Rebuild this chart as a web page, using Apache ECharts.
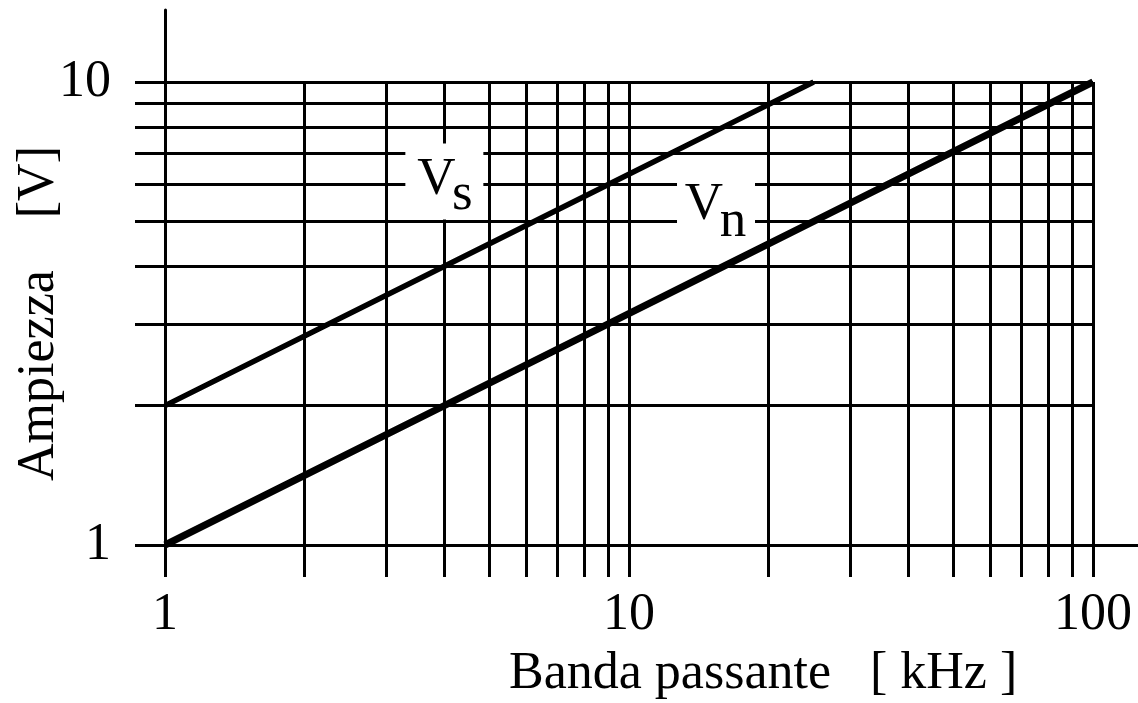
<!DOCTYPE html>
<html>
<head>
<meta charset="utf-8">
<script src="https://cdn.jsdelivr.net/npm/echarts@6/dist/echarts.min.js"></script>
<style>
  html, body { margin: 0; padding: 0; background: #fff; }
  #chart { width: 1138px; height: 703px; }
</style>
</head>
<body>
<div id="chart"></div>
<script>
// Bandwidth (kHz) vs amplitude (V), both on logarithmic scales
const xTicks = [1, 2, 3, 4, 5, 6, 7, 8, 9, 10, 20, 30, 40, 50, 60, 70, 80, 90, 100];
const xLabels = [1, 10, 100];
const yTicks = [1, 2, 3, 4, 5, 6, 7, 8, 9, 10];
const yLabels = [1, 10];

// Signal amplitude Vs
const vsFreq = [1, 4, 9, 16, 25];
const vsAmp = [2, 4, 6, 8, 10];
// Noise amplitude Vn
const vnFreq = [1, 4, 9, 16, 25, 49, 100];
const vnAmp = [1, 2, 3, 4, 5, 7, 10];

// Where the curve names sit (kHz, V)
const vsNameAt = [4, 6.1];
const vnNameAt = [15.4, 5.4];

const xName = 'Banda passante   [ kHz ]';
const yName = 'Ampiezza    [V]';

const FONT = "'Liberation Serif', 'DejaVu Serif', serif";
const INK = '#000';
const SIZE = 52;

const pairs = (xs, ys) => xs.map((x, i) => [x, ys[i]]);

// a white patch carrying a big "V", plus its subscript letter
function nameMarks(at, sub, vShift, subShift) {
  const textStyle = { fontFamily: FONT, fontSize: 53, color: INK };
  return [
    {
      coord: at,
      symbol: 'rect',
      symbolSize: [78, 76],
      itemStyle: { color: '#fff' },
      label: Object.assign({ show: true, position: 'inside', formatter: 'V', offset: vShift }, textStyle)
    },
    {
      coord: at,
      symbol: 'rect',
      symbolSize: [1, 1],
      itemStyle: { color: 'rgba(0,0,0,0)' },
      label: Object.assign({ show: true, position: 'inside', formatter: sub, offset: subShift }, textStyle)
    }
  ];
}

const chart = echarts.init(document.getElementById('chart'), null, { renderer: 'canvas' });

chart.setOption({
  backgroundColor: '#fff',
  animation: false,
  title: {
    text: xName,
    left: 509,
    top: 648,
    padding: 0,
    textStyle: { fontFamily: FONT, fontSize: SIZE, fontWeight: 'normal', color: INK }
  },
  grid: [
    { left: 165, right: 45, top: 82, bottom: 158, outerBoundsMode: 'none', containLabel: false },
    // carries the long axis lines that run past the plotting area
    { left: 165, right: 0, top: 10, bottom: 158, outerBoundsMode: 'none', containLabel: false }
  ],
  xAxis: [
    {
      type: 'log', logBase: 10, min: 1, max: 100, gridIndex: 0,
      axisLine: { show: true, lineStyle: { color: INK, width: 3 } },
      axisTick: { show: true, inside: false, length: 32, customValues: xTicks,
                  lineStyle: { color: INK, width: 3 } },
      splitLine: { show: true, lineStyle: { color: INK, width: 3 } },
      minorTick: { show: false }, minorSplitLine: { show: false },
      axisLabel: { show: true, customValues: xLabels, margin: 44,
                   fontFamily: FONT, fontSize: SIZE, color: INK,
                   showMinLabel: true, showMaxLabel: true, hideOverlap: false }
    },
    {
      type: 'value', gridIndex: 1, min: 0, max: 1,
      axisLine: { show: true, onZero: false, lineStyle: { color: INK, width: 3 } },
      axisTick: { show: false }, axisLabel: { show: false }, splitLine: { show: false }
    }
  ],
  yAxis: [
    {
      type: 'log', logBase: 10, min: 1, max: 10, gridIndex: 0,
      axisLine: { show: true, lineStyle: { color: INK, width: 3 } },
      axisTick: { show: true, inside: false, length: 30, customValues: yTicks,
                  lineStyle: { color: INK, width: 3 } },
      splitLine: { show: true, lineStyle: { color: INK, width: 3 } },
      minorTick: { show: false }, minorSplitLine: { show: false },
      axisLabel: { show: true, customValues: yLabels, margin: 54,
                   fontFamily: FONT, fontSize: SIZE, color: INK,
                   showMinLabel: true, showMaxLabel: true, hideOverlap: false },
      name: yName,
      nameLocation: 'middle',
      nameGap: 100,
      nameRotate: 90,
      nameMoveOverlap: false,
      nameTextStyle: { fontFamily: FONT, fontSize: SIZE, color: INK }
    },
    {
      type: 'value', gridIndex: 1, min: 0, max: 1,
      axisLine: { show: true, onZero: false, lineStyle: { color: INK, width: 3 } },
      axisTick: { show: false }, axisLabel: { show: false }, splitLine: { show: false }
    }
  ],
  series: [
    {
      name: 'Vs',
      type: 'line',
      xAxisIndex: 0, yAxisIndex: 0,
      data: pairs(vsFreq, vsAmp),
      showSymbol: false,
      lineStyle: { color: INK, width: 5.5 },
      z: 3,
      markPoint: { silent: true, data: nameMarks(vsNameAt, 's', [-8, -1], [18, 14]) }
    },
    {
      name: 'Vn',
      type: 'line',
      xAxisIndex: 0, yAxisIndex: 0,
      data: pairs(vnFreq, vnAmp),
      showSymbol: false,
      lineStyle: { color: INK, width: 7 },
      z: 3,
      markPoint: { silent: true, data: nameMarks(vnNameAt, 'n', [-12, -1], [17, 16]) }
    }
  ]
});
</script>
</body>
</html>
